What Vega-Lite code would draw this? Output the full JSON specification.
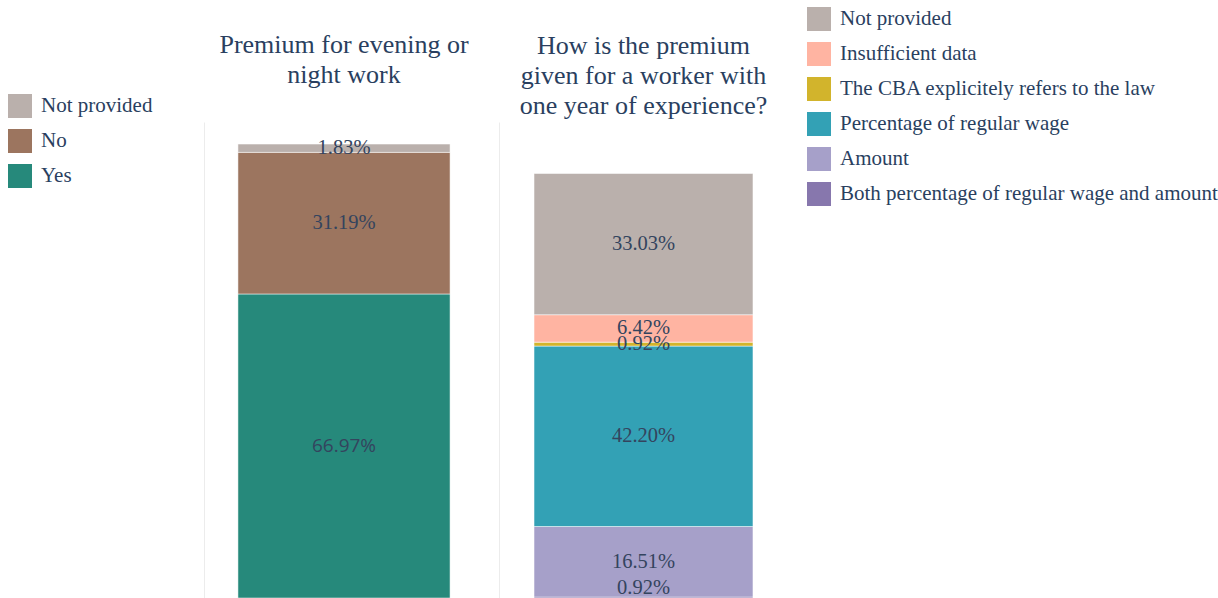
{
  "$schema": "https://vega.github.io/schema/vega-lite/v6.json",
  "padding": {"left": 8, "top": 7, "right": 0, "bottom": 0},
  "background": "white",
  "config": {"view": {"stroke": null}},
  "datasets": {
    "night": [
      {"q": "night", "answer": "Yes", "pct": 0.6697, "rank": 1},
      {"q": "night", "answer": "No", "pct": 0.3119, "rank": 2},
      {"q": "night", "answer": "Not provided", "pct": 0.0183, "rank": 3}
    ],
    "how": [
      {"q": "how", "answer": "Both percentage of regular wage and amount", "pct": 0.0092, "rank": 1},
      {"q": "how", "answer": "Amount", "pct": 0.1651, "rank": 2},
      {"q": "how", "answer": "Percentage of regular wage", "pct": 0.4220, "rank": 3},
      {"q": "how", "answer": "The CBA explicitely refers to the law", "pct": 0.0092, "rank": 4},
      {"q": "how", "answer": "Insufficient data", "pct": 0.0642, "rank": 5},
      {"q": "how", "answer": "Not provided", "pct": 0.3303, "rank": 6}
    ]
  },
  "spacing": 15,
  "resolve": {"scale": {"color": "independent", "y": "independent", "x": "independent"}, "legend": {"color": "independent"}},
  "hconcat": [
    {
      "width": 280,
      "height": 476,
      "title": {"text": ["Premium for evening or", "night work"], "font": "Liberation Serif", "fontSize": 26, "fontWeight": "normal", "color": "#2a3f5f", "lineHeight": 30, "offset": 6, "anchor": "middle", "frame": "group"},
      "data": {"name": "night"},
      "transform": [
        {"stack": "pct", "groupby": ["q"], "sort": [{"field": "rank", "order": "ascending"}], "as": ["v0", "v1"]}
      ],
      "layer": [
        {
          "mark": {"type": "bar", "stroke": "#ffffff", "strokeWidth": 0.5},
          "encoding": {
            "x": {"field": "q", "type": "nominal", "axis": null, "scale": {"paddingInner": 0, "paddingOuter": 0.16}},
            "y": {"field": "v0", "type": "quantitative", "scale": {"domain": [0, 1.0485], "nice": false, "zero": true},
                  "axis": {"domain": true, "domainColor": "#ececec", "domainWidth": 1, "labels": false, "ticks": false, "grid": false, "title": null}},
            "y2": {"field": "v1"},
            "color": {"field": "answer", "type": "nominal",
                      "scale": {"domain": ["Not provided", "No", "Yes"], "range": ["#bab0ac", "#9c755f", "#26897b"]},
                      "legend": {"orient": "none", "legendX": -196, "legendY": -28, "title": null, "symbolType": "square", "symbolSize": 576, "symbolStrokeWidth": 0, "labelFont": "Liberation Serif", "labelFontSize": 21, "labelColor": "#2a3f5f", "labelOffset": 9, "rowPadding": 11, "padding": 0}}
          }
        },
        {
          "transform": [
            {"filter": "datum.answer != 'Yes'"},
            {"fold": ["v0", "v1"], "as": ["edge", "ev"]},
            {"aggregate": [{"op": "mean", "field": "ev", "as": "mid"}], "groupby": ["q", "answer", "pct"]}
          ],
          "mark": {"type": "text", "font": "Liberation Serif", "fontSize": 20.5, "color": "#34445e", "baseline": "middle"},
          "encoding": {
            "x": {"field": "q", "type": "nominal"},
            "y": {"field": "mid", "type": "quantitative"},
            "text": {"field": "pct", "type": "quantitative", "format": ".2%"}
          }
        },
        {
          "transform": [
            {"filter": "datum.answer == 'Yes'"},
            {"fold": ["v0", "v1"], "as": ["edge", "ev"]},
            {"aggregate": [{"op": "mean", "field": "ev", "as": "mid"}], "groupby": ["q", "answer", "pct"]}
          ],
          "mark": {"type": "text", "font": "Open Sans", "fontSize": 19, "color": "#34445e", "baseline": "middle"},
          "encoding": {
            "x": {"field": "q", "type": "nominal"},
            "y": {"field": "mid", "type": "quantitative"},
            "text": {"field": "pct", "type": "quantitative", "format": ".2%"}
          }
        }
      ]
    },
    {
      "width": 289,
      "height": 479,
      "title": {"text": ["How is the premium", "given for a worker with", "one year of experience?"], "font": "Liberation Serif", "fontSize": 26, "fontWeight": "normal", "color": "#2a3f5f", "lineHeight": 30, "offset": -112, "anchor": "middle", "frame": "group"},
      "data": {"name": "how"},
      "transform": [
        {"stack": "pct", "groupby": ["q"], "sort": [{"field": "rank", "order": "ascending"}], "as": ["v0", "v1"]}
      ],
      "layer": [
        {
          "mark": {"type": "bar", "stroke": "#ffffff", "strokeWidth": 0.5},
          "encoding": {
            "x": {"field": "q", "type": "nominal", "axis": null, "scale": {"paddingInner": 0, "paddingOuter": 0.16}},
            "y": {"field": "v0", "type": "quantitative", "scale": {"domain": [0, 1.1205], "nice": false, "zero": true},
                  "axis": {"domain": true, "domainColor": "#ececec", "domainWidth": 1, "labels": false, "ticks": false, "grid": false, "title": null}},
            "y2": {"field": "v1"},
            "color": {"field": "answer", "type": "nominal",
                      "scale": {"domain": ["Not provided", "Insufficient data", "The CBA explicitely refers to the law", "Percentage of regular wage", "Amount", "Both percentage of regular wage and amount"],
                                "range": ["#bab0ac", "#ffb4a2", "#d2b42c", "#33a1b5", "#a6a0c9", "#8777ad"]},
                      "legend": {"orient": "none", "legendX": 308, "legendY": -115, "title": null, "symbolType": "square", "symbolSize": 576, "symbolStrokeWidth": 0, "labelFont": "Liberation Serif", "labelFontSize": 21, "labelColor": "#2a3f5f", "labelOffset": 9, "rowPadding": 11, "padding": 0, "labelLimit": 500}}
          }
        },
        {
          "transform": [
            {"filter": "datum.rank > 1"},
            {"fold": ["v0", "v1"], "as": ["edge", "ev"]},
            {"aggregate": [{"op": "mean", "field": "ev", "as": "mid"}], "groupby": ["q", "answer", "pct"]}
          ],
          "mark": {"type": "text", "font": "Liberation Serif", "fontSize": 20.5, "color": "#34445e", "baseline": "middle"},
          "encoding": {
            "x": {"field": "q", "type": "nominal"},
            "y": {"field": "mid", "type": "quantitative"},
            "text": {"field": "pct", "type": "quantitative", "format": ".2%"}
          }
        },
        {
          "transform": [
            {"filter": "datum.rank == 1"}
          ],
          "mark": {"type": "text", "font": "Liberation Serif", "fontSize": 20.5, "color": "#34445e", "baseline": "bottom", "dy": -3},
          "encoding": {
            "x": {"field": "q", "type": "nominal"},
            "y": {"field": "v0", "type": "quantitative"},
            "text": {"field": "pct", "type": "quantitative", "format": ".2%"}
          }
        }
      ]
    }
  ]
}
